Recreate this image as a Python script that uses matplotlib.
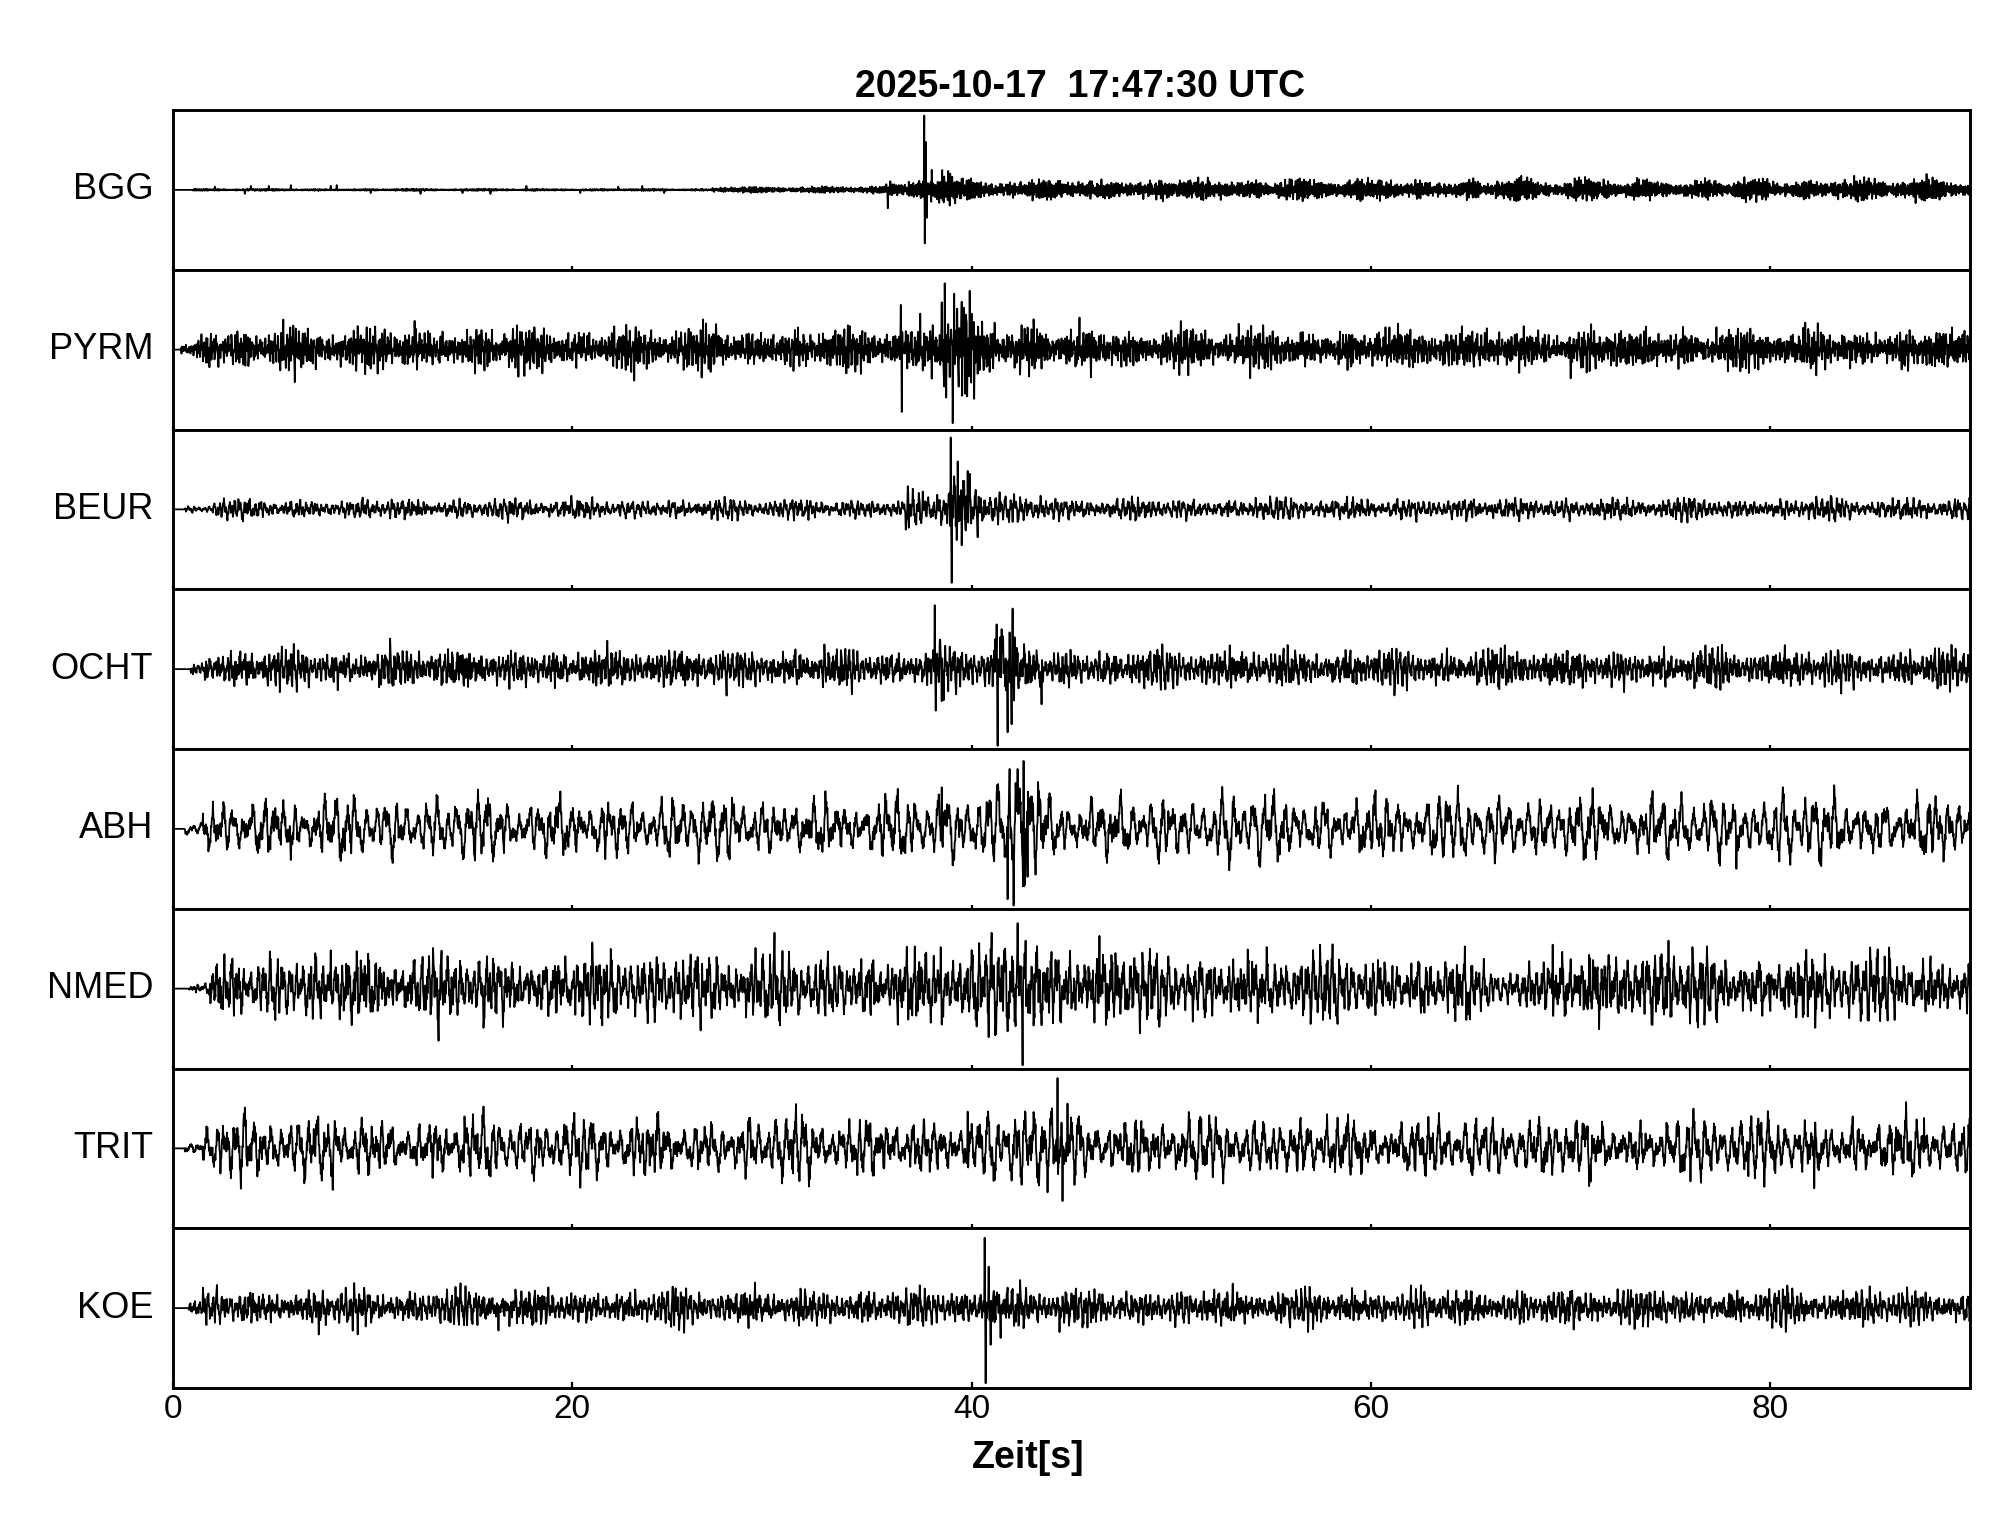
import numpy as np
import matplotlib.pyplot as plt

plt.rcParams['font.family'] = ['Liberation Sans', 'DejaVu Sans']

TITLE = "2025-10-17  17:47:30 UTC"
XLABEL = "Zeit[s]"
STATIONS = ["BGG", "PYRM", "BEUR", "OCHT", "ABH", "NMED", "TRIT", "KOE"]
XTICKS = [0, 20, 40, 60, 80]
T_END = 90.0

# time (s) where each trace leaves the flat zero line
START = [1.0, 0.4, 0.6, 0.9, 0.6, 0.8, 0.6, 0.8]

# noise level: (from s, to s, peak height in half-panel units)
BGG_LEVEL = [(1.0, 27.0, 0.012), (27.0, 33.5, 0.035), (33.5, 35.7, 0.05),
             (35.7, 37.5, 0.12), (37.5, 39.0, 0.2), (39.0, 40.5, 0.13),
             (40.5, 43.0, 0.1), (43.0, 90.1, 0.12)]
PYRM_LEVEL = [(0.4, 1.3, 0.1), (1.3, 36.3, 0.26), (36.3, 38.5, 0.3),
              (38.5, 40.2, 0.7), (40.2, 41.2, 0.45), (41.2, 43.5, 0.32),
              (43.5, 90.1, 0.25)]
BEUR_LEVEL = [(0.6, 2.0, 0.05), (2.0, 36.7, 0.12), (36.7, 38.9, 0.23),
              (38.9, 40.0, 0.45), (40.0, 41.5, 0.3), (41.5, 43.5, 0.18),
              (43.5, 90.1, 0.13)]
OCHT_LEVEL = [(0.9, 1.6, 0.08), (1.6, 38.1, 0.25), (38.1, 41.0, 0.28),
              (41.0, 42.2, 0.5), (42.2, 43.6, 0.36), (43.6, 90.1, 0.25)]
ABH_LEVEL = [(0.6, 1.5, 0.1), (1.5, 38.3, 0.37), (38.3, 41.2, 0.45),
             (41.2, 43.0, 0.7), (43.0, 44.0, 0.5), (44.0, 90.1, 0.39)]
NMED_LEVEL = [(0.8, 1.8, 0.06), (1.8, 2.8, 0.3), (2.8, 38.3, 0.43),
              (38.3, 41.5, 0.5), (41.5, 43.0, 0.7), (43.0, 48.0, 0.55),
              (48.0, 65.0, 0.41), (65.0, 69.3, 0.27), (69.3, 75.5, 0.52),
              (75.5, 90.1, 0.41)]
TRIT_LEVEL = [(0.6, 1.5, 0.08), (1.5, 39.5, 0.36), (39.5, 43.7, 0.4),
              (43.7, 45.5, 0.55), (45.5, 90.1, 0.36)]
KOE_LEVEL = [(0.8, 1.5, 0.08), (1.5, 40.3, 0.22), (40.3, 41.5, 0.36),
             (41.5, 42.5, 0.25), (42.5, 90.1, 0.22)]

# single swings: (time s, value in half-panel units)
BGG_PEAKS = [(2.1, 0.04), (3.6, -0.05), (3.9, 0.05), (4.8, 0.05), (5.9, 0.06),
             (7.9, 0.05), (8.2, 0.06), (9.9, -0.04), (12.4, -0.05), (14.5, -0.04),
             (15.9, -0.05), (17.7, 0.05), (20.4, -0.04), (22.3, 0.04), (23.5, 0.05),
             (24.6, -0.04), (35.8, -0.23), (37.62, 0.93), (37.65, -0.67),
             (37.7, 0.6), (37.75, -0.35), (38.0, 0.25)]
PYRM_PEAKS = [(12.1, 0.36), (17.3, -0.34), (27.2, 0.32), (36.45, 0.56),
              (36.5, -0.78), (38.65, 0.83), (38.72, -0.6), (39.05, -0.92),
              (39.12, 0.7), (39.5, 0.6), (40.0, 0.45), (70.0, -0.36)]
BEUR_PEAKS = [(36.8, 0.29), (36.85, -0.23), (38.95, 0.9), (39.0, -0.92),
              (39.3, 0.6), (39.5, -0.45), (39.8, 0.48), (40.3, -0.35)]
OCHT_PEAKS = [(38.15, 0.8), (38.2, -0.52), (38.4, 0.35), (38.5, -0.4),
              (41.25, 0.56), (41.3, -0.96), (41.5, 0.5), (41.8, -0.79),
              (41.9, 0.46), (42.0, -0.69), (42.15, 0.4), (43.5, -0.44)]
ABH_PEAKS = [(5.9, -0.39), (38.5, 0.52), (41.8, -0.88), (41.9, 0.75),
             (42.1, -0.96), (42.3, 0.75), (42.6, 0.85), (42.8, -0.6),
             (54.7, 0.43), (78.3, -0.5)]
NMED_PEAKS = [(7.9, 0.48), (38.45, 0.52), (38.5, -0.45), (42.3, 0.82),
              (42.55, -0.96), (42.7, 0.6), (46.4, 0.66), (69.1, 0.55), (74.9, 0.6)]
TRIT_PEAKS = [(8.0, -0.52), (14.6, 0.4), (39.8, 0.46), (44.3, 0.88),
              (44.55, -0.66), (44.8, 0.56), (82.2, -0.5), (87.7, 0.38)]
KOE_PEAKS = [(2.2, 0.29), (7.3, -0.33), (16.3, -0.28), (40.65, 0.88),
             (40.7, -0.94), (40.85, 0.52), (40.95, -0.46), (44.4, -0.3)]

LEVELS = [BGG_LEVEL, PYRM_LEVEL, BEUR_LEVEL, OCHT_LEVEL,
          ABH_LEVEL, NMED_LEVEL, TRIT_LEVEL, KOE_LEVEL]
PEAKS = [BGG_PEAKS, PYRM_PEAKS, BEUR_PEAKS, OCHT_PEAKS,
         ABH_PEAKS, NMED_PEAKS, TRIT_PEAKS, KOE_PEAKS]

# drawing texture for the scribble (style only, not data)
WIGGLE_FAST = [0.6, -0.9, 0.3, -0.4, 1.0, -0.7, 0.2, -0.5, 0.8, -0.2,
               0.5, -1.0, 0.4, -0.3, 0.7, -0.6, 0.9, -0.1, 0.3, -0.8,
               0.6, -0.4, 0.1, -0.7, 1.0, -0.5, 0.2, -0.9, 0.5]
WIGGLE_SLOW = [0.3, 0.9, 0.4, -0.5, -1.0, -0.2, 0.6, 0.1, -0.7, 0.5,
               1.0, 0.2, -0.4, -0.9, -0.3, 0.7, 0.4, -0.2, -0.8, 0.6,
               0.9, -0.1, -0.6]
# (slow steps per second, slow weight, second slow weight, fast weight)
STYLE = [(46, 0.35, 0.3, 0.9), (30, 0.5, 0.45, 0.55), (18, 0.6, 0.45, 0.35),
         (22, 0.6, 0.5, 0.4), (9, 0.7, 0.45, 0.3), (14, 0.6, 0.5, 0.4),
         (10, 0.65, 0.5, 0.35), (20, 0.6, 0.5, 0.4)]

SPS = 40


def texture(x, shape):
    n = len(shape)
    return np.interp(x, np.arange(n), shape, period=n)


def build_trace(t, start, levels, peaks, style, shift):
    rate, w1, w2, w3 = style
    env = np.zeros_like(t)
    for a, b, hh in levels:
        env[(t >= a) & (t < b)] = hh
    env[t < start] = 0.0
    s1 = texture(t * rate + shift, WIGGLE_SLOW)
    s2 = texture(t * rate * 1.73 + 2 * shift + 5, WIGGLE_SLOW[::-1])
    f = np.asarray(WIGGLE_FAST)[(np.arange(len(t)) + 3 * shift) % len(WIGGLE_FAST)]
    pack = 0.45 + 0.6 * np.abs(texture(t * 0.83 + shift, WIGGLE_SLOW))
    y = env * pack * (w1 * s1 + w2 * s2 + w3 * f) / (0.55 * (w1 + w2 + w3))
    for tp, v in peaks:
        y[np.argmin(np.abs(t - tp))] = v
    return y


t = np.arange(0, T_END * SPS + 1) / SPS

fig = plt.figure(figsize=(20.05, 15.22), dpi=100)
left, width = 173 / 2005, (1970 - 173) / 2005
top, bottom = 1 - 110 / 1522, 1 - 1388 / 1522
h = (top - bottom) / len(STATIONS)

for i, name in enumerate(STATIONS):
    ax = fig.add_axes([left, top - (i + 1) * h, width, h])
    y = build_trace(t, START[i], LEVELS[i], PEAKS[i], STYLE[i], 5 * i)
    ax.plot(t, y, color='black', lw=1.3)
    ax.set_xlim(0, T_END)
    ax.set_ylim(-1, 1)
    ax.set_yticks([])
    ax.set_xticks(XTICKS)
    last = i == len(STATIONS) - 1
    ax.tick_params(axis='x', direction='in', length=4.3 if last else 2.9,
                   width=1.6, labelbottom=last, labelsize=24, pad=4)
    for s in ax.spines.values():
        s.set_linewidth(2.1)
    ax.text(-0.011, 0.5, name, transform=ax.transAxes, ha='right', va='center',
            fontsize=26)

fig.text(1080 / 2005, 1 - 97 / 1522, TITLE, ha='center', va='baseline',
         fontsize=27, fontweight='bold')
fig.text(1028 / 2005, 1 - 1468 / 1522, XLABEL, ha='center', va='baseline',
         fontsize=27, fontweight='bold')

fig.savefig('out.png', dpi=100)
